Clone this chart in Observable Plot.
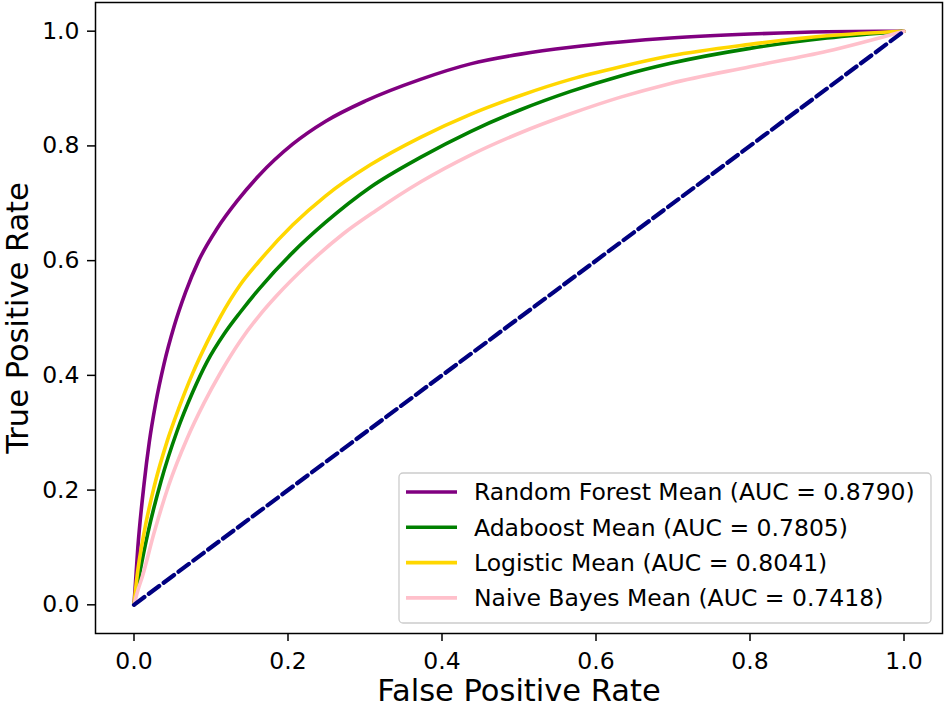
<!DOCTYPE html>
<html>
<head>
<meta charset="utf-8">
<script src="https://cdn.jsdelivr.net/npm/d3@7"></script>
<script src="https://cdn.jsdelivr.net/npm/@observablehq/plot@0.6"></script>
<style>
  html, body { margin: 0; padding: 0; background: white; }
  #chart { width: 944px; height: 709px; }
</style>
</head>
<body>
<div id="chart"></div>
<script>
// ---- Data ----
const seriesNames = ["Random Forest", "Adaboost", "Logistic", "Naive Bayes"];
const seriesColors = ["#800080", "#008000", "#ffd700", "#ffc0cb"];
const seriesAUC = [0.8790, 0.7805, 0.8041, 0.7418];

const rfFpr = [0, 0.005, 0.013, 0.020, 0.028, 0.039, 0.052, 0.067, 0.084, 0.108, 0.134, 0.162, 0.206, 0.249, 0.300, 0.372, 0.437, 0.502, 0.567, 0.632, 0.697, 0.80, 0.90, 1.0];
const rfTpr = [0, 0.10, 0.21, 0.285, 0.35, 0.42, 0.485, 0.545, 0.600, 0.656, 0.704, 0.748, 0.803, 0.843, 0.878, 0.916, 0.943, 0.960, 0.972, 0.981, 0.988, 0.995, 0.999, 1.0];

const adaFpr = [0, 0.006, 0.018, 0.035, 0.056, 0.076, 0.095, 0.117, 0.138, 0.162, 0.206, 0.249, 0.307, 0.372, 0.437, 0.502, 0.567, 0.632, 0.697, 0.80, 0.90, 1.0];
const adaTpr = [0, 0.045, 0.125, 0.215, 0.303, 0.370, 0.424, 0.472, 0.510, 0.550, 0.614, 0.667, 0.728, 0.780, 0.825, 0.863, 0.895, 0.922, 0.944, 0.970, 0.988, 1.0];

const logFpr = [0, 0.004, 0.013, 0.026, 0.043, 0.058, 0.076, 0.095, 0.1125, 0.138, 0.162, 0.206, 0.249, 0.307, 0.372, 0.437, 0.502, 0.567, 0.632, 0.697, 0.80, 0.90, 1.0];
const logTpr = [0, 0.05, 0.125, 0.205, 0.285, 0.342, 0.403, 0.458, 0.503, 0.558, 0.598, 0.662, 0.713, 0.767, 0.815, 0.855, 0.888, 0.916, 0.938, 0.957, 0.977, 0.992, 1.0];

const nbFpr = [0, 0.005, 0.011, 0.026, 0.045, 0.069, 0.091, 0.1125, 0.138, 0.162, 0.184, 0.227, 0.271, 0.314, 0.372, 0.437, 0.502, 0.567, 0.632, 0.697, 0.80, 0.90, 1.0];
const nbTpr = [0, 0.025, 0.05, 0.125, 0.208, 0.290, 0.352, 0.405, 0.460, 0.503, 0.537, 0.595, 0.646, 0.687, 0.737, 0.784, 0.823, 0.856, 0.885, 0.909, 0.938, 0.965, 1.0];

const chanceFpr = [0, 1];
const chanceTpr = [0, 1];

const tickValues = [0, 0.2, 0.4, 0.6, 0.8, 1.0];
const xLabel = "False Positive Rate";
const yLabel = "True Positive Rate";

// ---- Build tables ----
const fprs = [rfFpr, adaFpr, logFpr, nbFpr];
const tprs = [rfTpr, adaTpr, logTpr, nbTpr];
const curves = seriesNames.map((name, i) =>
  fprs[i].map((x, j) => ({series: name, x, y: tprs[i][j]}))
);
const chance = chanceFpr.map((x, j) => ({x, y: chanceTpr[j]}));

const FONT = "DejaVu Sans";

// legend drawn as a custom render mark
function legendMark(index, scales, values, dimensions) {
  const {width, height, marginRight, marginBottom} = dimensions;
  const boxW = 532, boxH = 150;
  const right = width - marginRight - 11;
  const bottom = height - marginBottom - 10;
  const left = right - boxW, top = bottom - boxH;
  const g = d3.create("svg:g");
  g.append("rect")
    .attr("x", left).attr("y", top)
    .attr("width", boxW).attr("height", boxH)
    .attr("rx", 4).attr("ry", 4)
    .attr("fill", "white").attr("fill-opacity", 0.8)
    .attr("stroke", "#cccccc").attr("stroke-width", 1.3);
  const rowH = 35.3;
  seriesNames.forEach((name, i) => {
    const cy = top + 19 + i * rowH;
    g.append("line")
      .attr("x1", left + 7).attr("x2", left + 58)
      .attr("y1", cy).attr("y2", cy)
      .attr("stroke", seriesColors[i]).attr("stroke-width", 3.6);
    g.append("text")
      .attr("x", left + 75).attr("y", cy)
      .attr("dy", "0.35em")
      .attr("text-anchor", "start")
      .attr("font-family", FONT)
      .attr("font-size", 23.5)
      .attr("fill", "black")
      .text(`${name} Mean (AUC = ${seriesAUC[i].toFixed(4)})`);
  });
  return g.node();
}

const chart = Plot.plot({
  width: 944,
  height: 709,
  marginLeft: 95,
  marginRight: 2,
  marginTop: 2,
  marginBottom: 76,
  style: {fontFamily: FONT, fontSize: "23.5px", color: "black", background: "white", overflow: "visible"},
  x: {domain: [-0.05, 1.05]},
  y: {domain: [-0.05, 1.05]},
  marks: [
    ...curves.map((c, i) => Plot.line(c, {
      x: "x", y: "y", stroke: seriesColors[i], strokeWidth: 3.6, curve: "monotone-x"
    })),
    Plot.line(chance, {x: "x", y: "y", stroke: "#000080", strokeWidth: 4.2, strokeDasharray: "13,5.5"}),
    Plot.frame({stroke: "black", strokeWidth: 1.5}),
    Plot.axisX(tickValues, {tickSize: 8, tickPadding: 11, tickFormat: d3.format(".1f"), label: null, fontSize: 23.5, strokeWidth: 1.5}),
    Plot.axisY(tickValues, {tickSize: 8, tickPadding: 8, tickFormat: d3.format(".1f"), label: null, fontSize: 23.5, strokeWidth: 1.5}),
    Plot.text([xLabel], {text: d => d, frameAnchor: "bottom", lineAnchor: "middle", textAnchor: "middle", dy: 57.5, fontSize: 30.5}),
    Plot.text([yLabel], {text: d => d, frameAnchor: "left", lineAnchor: "middle", textAnchor: "middle", dx: -77, rotate: -90, fontSize: 30.5}),
    legendMark
  ]
});
document.getElementById("chart").appendChild(chart);
</script>
</body>
</html>
